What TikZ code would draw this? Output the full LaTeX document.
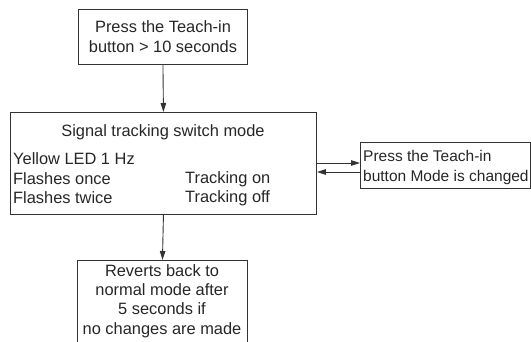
\documentclass[tikz,border=0pt]{standalone}
\usepackage{fontspec}
\setmainfont{Liberation Sans}
\usetikzlibrary{arrows.meta}
\begin{document}
\begin{tikzpicture}[x=1pt,y=-1pt,
  box/.style={draw=black!80, line width=0.9pt, inner sep=0pt, anchor=north west},
  txt/.style={text=black!85, inner sep=0pt, font=\fontsize{16.4}{19.4}\selectfont},
  smalltxt/.style={txt, font=\fontsize{15.5}{20.5}\selectfont},
  link/.style={draw=black!80, line width=0.9pt, -{Triangle[length=9pt,width=5.5pt]}}]
\useasboundingbox (0,0) rectangle (531,342);
\clip (0,0) rectangle (531,342);

% start box
\node[box, minimum width=169pt, minimum height=55pt] (start) at (78,9) {};
\node[txt, align=center] (starttxt) at (163,36.5) {Press the Teach-in\\button > 10 seconds};

% mode box
\node[box, minimum width=306pt, minimum height=102pt] (mode) at (10,112) {};
\node[txt] (title) at (163,132) {Signal tracking switch mode};
\node[txt, anchor=west] (led) at (13,159) {Yellow LED 1 Hz};
\node[txt, anchor=west] (once) at (13,179) {Flashes once};
\node[txt, anchor=west] (twice) at (13,198) {Flashes twice};
\node[txt, anchor=west] (on) at (185,179) {Tracking on};
\node[txt, anchor=west] (off) at (185,198) {Tracking off};

% side box
\node[box, minimum width=170pt, minimum height=46pt] (side) at (360,142) {};
\node[smalltxt, anchor=west, align=left] (sidetxt) at (363,167.5) {Press the Teach-in\\button Mode is changed};

% end box (runs past the lower edge)
\node[box, minimum width=170pt, minimum height=100pt] (end) at (77,260) {};
\node[txt, align=center] (endtxt) at (162,301) {Reverts back to\\normal mode after\\5 seconds if\\no changes are made};

% connectors
\draw[link] (start.south) -- (mode.north);
\draw[link] (mode.east |- 0,163) -- (side.west |- 0,163);
\draw[link] (side.west |- 0,172) -- (mode.east |- 0,172);
\draw[link] (mode.south) -- (end.north);
\end{tikzpicture}
\end{document}
